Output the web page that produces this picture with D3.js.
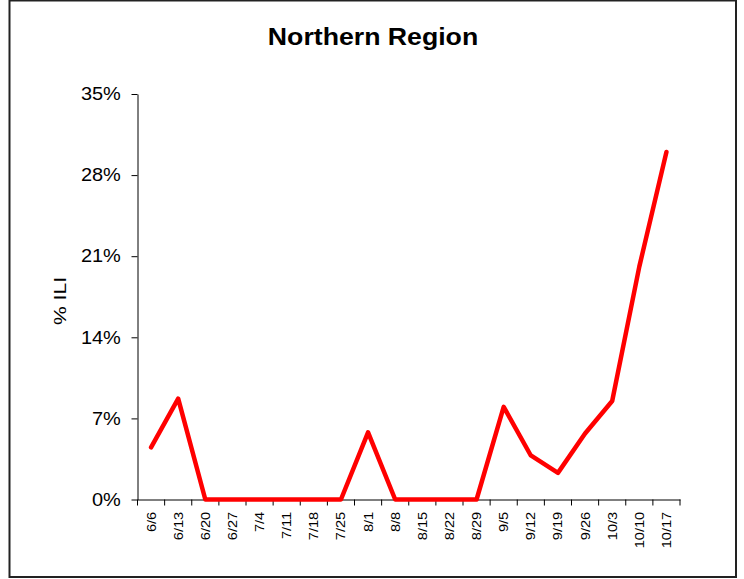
<!DOCTYPE html>
<html><head><meta charset="utf-8">
<script src="https://cdn.jsdelivr.net/npm/d3@7"></script>
<style>body{margin:0;background:#fff}svg{display:block;font-family:"Liberation Sans",Arial,sans-serif}</style>
</head><body><svg id="c" width="744" height="579"></svg>
<script>
const weeks = ["6/6","6/13","6/20","6/27","7/4","7/11","7/18","7/25","8/1","8/8","8/15","8/22","8/29","9/5","9/12","9/19","9/26","10/3","10/10","10/17"];
const iliPct = [4.5,8.7,0,0,0,0,0,0,5.8,0,0,0,0,8.0,3.8,2.3,5.7,8.5,20.1,30.0];
const yTicks = [0,7,14,21,28,35];
const title = "Northern Region";
const yLabel = "% ILI";

const svg = d3.select("#c");
svg.append("rect").attr("x",9.5).attr("y",0.5).attr("width",726.5).attr("height",576.5)
  .attr("fill","#fff").attr("stroke","#222").attr("stroke-width",2);

const pL=137.5, pR=680, pT=94, pB=499.5;
const x = d3.scaleBand().domain(weeks).range([pL,pR]);
const y = d3.scaleLinear().domain([0,35]).range([pB,pT]);

svg.append("text").attr("transform","translate(373,44.5) scale(1.16,1)").attr("text-anchor","middle")
  .attr("font-size",23).attr("font-weight","bold").text(title);

const ya = svg.append("g").attr("transform",`translate(${pL},0)`)
  .call(d3.axisLeft(y).tickValues(yTicks).tickFormat(d=>d+"%").tickSize(6).tickSizeOuter(0));
ya.select(".domain").attr("stroke","#000");
ya.selectAll(".tick text").attr("font-size",18).attr("fill","#000")
  .attr("font-family","Liberation Sans, Arial, sans-serif")
  .attr("x",-15).attr("transform","scale(1.11,1)");

const xa = svg.append("g").attr("transform",`translate(0,${pB})`)
  .call(d3.axisBottom(x).tickSize(0).tickSizeOuter(0));
xa.select(".domain").attr("stroke","#000");
xa.selectAll(".tick text").attr("font-size",13).attr("fill","#000")
  .attr("font-family","Liberation Sans, Arial, sans-serif")
  .attr("transform","rotate(-90) scale(1.12,1)").attr("text-anchor","end")
  .attr("x",-11).attr("y",0).attr("dy","0.35em");
const bounds = weeks.map(w=>x(w)).concat([pR]);
svg.append("g").selectAll("line").data(bounds).join("line")
  .attr("x1",d=>d).attr("x2",d=>d).attr("y1",pB).attr("y2",pB+6).attr("stroke","#000");

svg.append("text").attr("transform","translate(66,301) rotate(-90) scale(1.24,1)").attr("text-anchor","middle")
  .attr("font-size",17).text(yLabel);

const line = d3.line().x((d,i)=>x(weeks[i])+x.bandwidth()/2).y(d=>y(d));
svg.append("path").datum(iliPct).attr("d",line).attr("fill","none")
  .attr("stroke","#ff0000").attr("stroke-width",4.5).attr("stroke-linejoin","round").attr("stroke-linecap","round");
</script></body></html>
